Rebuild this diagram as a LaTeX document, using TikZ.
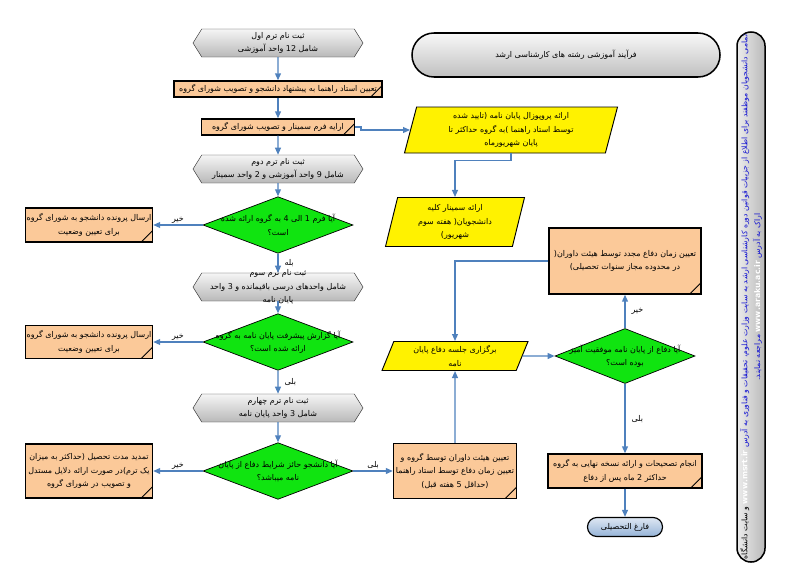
\documentclass[tikz,border=0pt]{standalone}
\usepackage{fontspec}
\newfontfamily\arabicfont[Script=Arabic]{DejaVu Sans}
\TeXXeTstate=1
\usetikzlibrary{shapes.geometric,shapes.symbols,arrows.meta}

\definecolor{peach}{RGB}{251,201,153}
\definecolor{qgreen}{RGB}{16,228,16}
\definecolor{arrowblue}{RGB}{79,129,189}
\definecolor{urlblue}{RGB}{20,20,210}
\definecolor{endtop}{RGB}{222,231,243}
\definecolor{endbottom}{RGB}{149,179,215}

% one line of persian text
\newcommand{\fatext}[1]{\beginR #1\endR}

\tikzset{
  txt/.style={font=\arabicfont\fontsize{6.8}{11.5}\selectfont, align=center, inner sep=1pt},
  term/.style={txt, signal, signal to=east and west, signal pointer angle=116,
    draw=gray!40!black, top color=gray!8, bottom color=gray!55,
    minimum width=5.1cm, minimum height=0.84cm},
  task/.style={txt, rectangle, draw, line width=1.1pt, fill=peach,
    path picture={\draw[line width=0.8pt]
      ([xshift=-0.34cm]path picture bounding box.south east) --
      ([yshift=0.34cm]path picture bounding box.south east);}},
  data/.style={txt, trapezium, trapezium left angle=72, trapezium right angle=108,
    trapezium stretches body, draw, line width=0.8pt, fill=yellow},
  decision/.style={diamond, draw, line width=0.6pt, fill=qgreen, inner sep=0pt,
    minimum width=4.5cm, minimum height=1.7cm},
  flow/.style={draw=arrowblue, line width=1.2pt, -{Triangle[length=6pt,width=5pt]}},
  answer/.style={txt, text=black},
}

\begin{document}
\begin{tikzpicture}[x=0.03cm,y=-0.03cm]
\useasboundingbox (0,0) rectangle (796,583);

% title and note on the right
\node[txt, rectangle, rounded corners=0.66cm, draw, line width=1.3pt,
  top color=gray!5, bottom color=gray!50, minimum width=9.24cm, minimum height=1.32cm]
  (title) at (566,55) {\fatext{فرآیند آموزشی رشته های کارشناسی ارشد}};
\node[rectangle, rounded corners=0.42cm, draw, line width=1.3pt,
  left color=gray!15, right color=gray!55, minimum width=0.84cm, minimum height=15.9cm]
  (note) at (751,297) {};
\node[txt, rotate=90, font=\arabicfont\fontsize{6.6}{11}\selectfont] (notetxt) at (note)
  {\fatext{تمامی دانشجویان موظفند برای اطلاع از جزییات قوانین دوره کارشناسی ارشد به سایت وزارت علوم، تحقیقات و فناوری به آدرس \hbox{\color{urlblue}\bfseries www.msrt.ir} و سایت دانشگاه}\\
   \fatext{اراک به آدرس \hbox{\color{urlblue}\bfseries www.araku.ac.ir} مراجعه نمایند.}};

% main column
\node[term] (t1) at (278,43) {\fatext{ثبت نام ترم اول}\\\fatext{شامل 12 واحد آموزشی}};
\node[task, minimum width=6.24cm, minimum height=0.48cm] (a1) at (278,89)
  {\fatext{تعیین استاد راهنما به پیشنهاد دانشجو و تصویب شورای گروه}};
\node[task, minimum width=4.59cm, minimum height=0.48cm] (a2) at (278,127)
  {\fatext{ارایه فرم سمینار و تصویب شورای گروه}};
\node[term] (t2) at (278,169) {\fatext{ثبت نام ترم دوم}\\\fatext{شامل 9 واحد آموزشی و 2 واحد سمینار}};
\node[decision] (q1) at (278,225) {};
\node[txt] (q1txt) at (q1) {\fatext{آیا فرم 1 الی 4 به گروه ارائه شده}\\\fatext{است؟}};
\node[term] (t3) at (278,287) {};
\node[txt] (t3txt) at (t3) {\fatext{ثبت نام ترم سوم}\\\fatext{شامل واحدهای درسی باقیمانده و 3 واحد}\\\fatext{پایان نامه}};
\node[decision] (q2) at (278,342) {};
\node[txt] (q2txt) at (q2) {\fatext{آیا گزارش پیشرفت پایان نامه به گروه}\\\fatext{ارائه شده است؟}};
\node[term] (t4) at (278,408) {\fatext{ثبت نام ترم چهارم}\\\fatext{شامل 3 واحد پایان نامه}};
\node[decision] (q3) at (278,471) {};
\node[txt] (q3txt) at (q3) {\fatext{آیا دانشجو حائز شرایط دفاع از پایان}\\\fatext{نامه میباشد؟}};

% boxes on the left
\node[task, minimum width=3.81cm, minimum height=1.02cm] (b1) at (89,225)
  {\fatext{ارسال پرونده دانشجو به شورای گروه}\\\fatext{برای تعیین وضعیت}};
\node[task, minimum width=3.81cm, minimum height=0.99cm] (b2) at (89,342)
  {\fatext{ارسال پرونده دانشجو به شورای گروه}\\\fatext{برای تعیین وضعیت}};
\node[task, minimum width=3.81cm, minimum height=1.62cm] (b3) at (89,471)
  {\fatext{تمدید مدت تحصیل (حداکثر به میزان}\\\fatext{یک ترم)در صورت ارائه دلایل مستدل}\\\fatext{و تصویب در شورای گروه}};

% seminar and proposal
\node[data, minimum width=6.39cm, minimum height=1.38cm] (p1) at (511,130)
  {\fatext{ارائه پروپوزال پایان نامه (تایید شده}\\\fatext{توسط استاد راهنما )به گروه حداکثر تا}\\\fatext{پایان شهریورماه}};
\node[data, minimum width=4.17cm, minimum height=1.47cm] (p3) at (455,222)
  {\fatext{ارائه سمینار کلیه}\\\fatext{دانشجویان( هفته سوم}\\\fatext{شهریور)}};

% defence
\node[task, minimum width=3.69cm, minimum height=1.65cm] (r1) at (455,471)
  {\fatext{تعیین هیئت داوران توسط گروه و}\\\fatext{تعیین زمان دفاع توسط استاد راهنما}\\\fatext{(حداقل 5 هفته قبل)}};
\node[data, trapezium left angle=63, trapezium right angle=117,
  minimum width=4.38cm, minimum height=0.87cm] (p2) at (455,356)
  {\fatext{برگزاری جلسه دفاع پایان}\\\fatext{نامه}};
\node[decision, minimum width=4.2cm, minimum height=1.65cm] (q4) at (625,356) {};
\node[txt] (q4txt) at (q4) {\fatext{آیا دفاع از پایان نامه موفقیت آمیز}\\\fatext{بوده است؟}};
\node[task, minimum width=4.56cm, minimum height=1.98cm] (r2) at (625,261)
  {\fatext{تعیین زمان دفاع مجدد توسط هیئت داوران(}\\\fatext{در محدوده مجاز سنوات تحصیلی)}};
\node[task, minimum width=4.62cm, minimum height=1.02cm] (f1) at (625,471)
  {\fatext{انجام تصحیحات و ارائه نسخه نهایی به گروه}\\\fatext{حداکثر 2 ماه پس از دفاع}};
\node[txt, rectangle, rounded corners=0.28cm, draw, line width=1pt,
  top color=endtop, bottom color=endbottom, minimum width=2.25cm, minimum height=0.57cm]
  (done) at (625,527) {\fatext{فارغ التحصیلی}};

% straight connectors
\foreach \a/\b in {t1/a1,a1/a2,a2/t2,t2/q1,t3/q2,t4/q3,r1/p2,p2/q4,f1/done}
  \draw[flow] (\a) -- (\b);
% connectors with answers
\draw[flow] (q1) -- (b1) node[answer,midway,above] {خیر};
\draw[flow] (q1) -- (t3) node[answer,midway,right=4pt] {بله};
\draw[flow] (q2) -- (b2) node[answer,midway,above] {خیر};
\draw[flow] (q2) -- (t4) node[answer,midway,right=4pt] {بلی};
\draw[flow] (q3) -- (b3) node[answer,midway,above] {خیر};
\draw[flow] (q3) -- (r1) node[answer,midway,above] {بلی};
\draw[flow] (q4) -- (r2) node[answer,midway,right=4pt] {خیر};
\draw[flow] (q4) -- (f1) node[answer,midway,right=4pt] {بلی};
% elbow connectors
\draw[flow] (a2.east) -- ++(6,0) |- (p1.west);
\draw[flow] (p1.south) -- ++(0,7) -| (p3.north);
\draw[flow] (r2.west) -| (p2.north);
\end{tikzpicture}
\end{document}
